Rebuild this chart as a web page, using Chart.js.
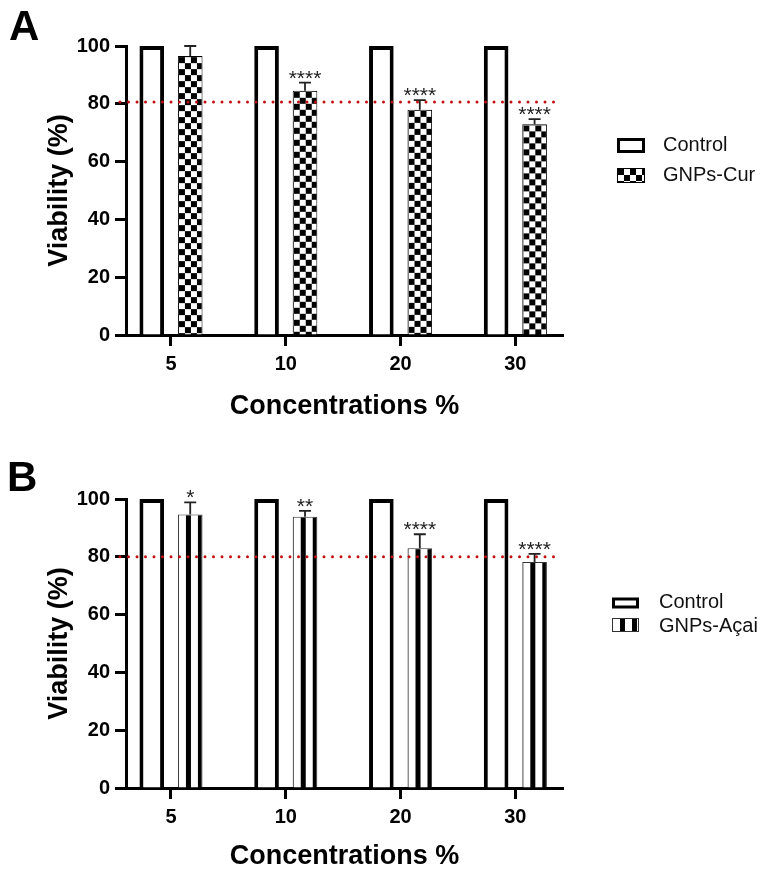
<!DOCTYPE html>
<html>
<head>
<meta charset="utf-8">
<script src="https://cdn.jsdelivr.net/npm/chart.js@4.4.1/dist/chart.umd.min.js"></script>
<style>
  html, body { margin: 0; padding: 0; background: #fff; }
  canvas { display: block; }
</style>
</head>
<body>
<canvas id="panelA" width="778" height="440"></canvas>
<canvas id="panelB" width="778" height="438"></canvas>
<script>
// values
const doses = ['5', '10', '20', '30']
const controlA = [100, 100, 100, 100]
const curA = [96.5, 84.5, 77.9, 72.9]
const curErrA = [3.5, 2.8, 3.4, 1.8]
const curSigA = ['', '****', '****', '****']
const cutoffA = 80.6

const controlB = [100, 100, 100, 100]
const acaiB = [94.6, 93.9, 83.0, 78.2]
const acaiErrB = [4.2, 2.0, 4.8, 2.8]
const acaiSigB = ['*', '**', '****', '****']
const cutoffB = 80

const FONT = "Arial, 'Liberation Sans', Helvetica, sans-serif"
Chart.defaults.font.family = FONT
Chart.defaults.color = '#000'

function checkerTile(cell) {
  const c = document.createElement('canvas')
  c.width = c.height = cell * 2
  const g = c.getContext('2d')
  g.fillStyle = '#fff'
  g.fillRect(0, 0, c.width, c.height)
  g.fillStyle = '#000'
  g.fillRect(0, 0, cell, cell)
  g.fillRect(cell, cell, cell, cell)
  return g.createPattern(c, 'repeat')
}

function stripeTile(white, black) {
  const c = document.createElement('canvas')
  c.width = white + black
  c.height = 4
  const g = c.getContext('2d')
  g.fillStyle = '#fff'
  g.fillRect(0, 0, white, 4)
  g.fillStyle = '#000'
  g.fillRect(white, 0, black, 4)
  return g.createPattern(c, 'repeat')
}

const toPoints = arr => arr.map((v, i) => ({ x: i, y: v }))

// patterned bars: reset the pattern origin to each bar before drawing it
const tiledBars = {
  id: 'tiledBars',
  beforeDatasetDraw(chart, args) {
    const ds = chart.data.datasets[args.index]
    if (!ds.tile) return
    args.meta.data.forEach(bar => {
      const left = bar.x - bar.width / 2
      ds.tile.setTransform(new DOMMatrix().translate(left + 1, bar.y + 1))
      bar.draw(chart.ctx)
    })
    return false
  }
}

const extras = {
  id: 'extras',
  afterDatasetsDraw(chart, args, opts) {
    const { ctx, chartArea, scales: { y } } = chart
    ctx.save()
    chart.data.datasets.forEach((ds, di) => {
      if (!ds.errors) return
      const meta = chart.getDatasetMeta(di)
      meta.data.forEach((bar, i) => {
        const top = y.getPixelForValue(ds.data[i].y + ds.errors[i])
        ctx.strokeStyle = '#222'
        ctx.lineWidth = 1.8
        ctx.beginPath()
        ctx.moveTo(bar.x, bar.y)
        ctx.lineTo(bar.x, top)
        ctx.moveTo(bar.x - 6, top)
        ctx.lineTo(bar.x + 6, top)
        ctx.stroke()
        if (ds.stars[i]) {
          ctx.fillStyle = '#222'
          ctx.font = '21px ' + FONT
          ctx.textAlign = 'center'
          ctx.textBaseline = 'alphabetic'
          ctx.fillText(ds.stars[i], bar.x, top + 2)
        }
      })
    })
    // dotted cut-off line
    const yc = y.getPixelForValue(opts.cutoff)
    ctx.strokeStyle = '#c40f0f'
    ctx.lineWidth = 3
    ctx.lineCap = 'round'
    ctx.setLineDash([0, 8.5])
    ctx.beginPath()
    ctx.moveTo(chartArea.left - 6, yc)
    ctx.lineTo(chartArea.right - 7, yc)
    ctx.stroke()
    ctx.restore()
  },
  afterDraw(chart, args, opts) {
    const ctx = chart.ctx
    ctx.save()
    // panel letter
    ctx.fillStyle = '#000'
    ctx.font = 'bold 42px ' + FONT
    ctx.textAlign = 'left'
    ctx.textBaseline = 'alphabetic'
    ctx.fillText(opts.letter, opts.letterX, opts.letterY)
    // legend
    chart.data.datasets.forEach((ds, i) => {
      const row = opts.rows[i]
      const top = row.y - row.h / 2
      const b = ds.swatchBorder
      ctx.fillStyle = ds.borderColor
      ctx.fillRect(opts.boxX, top, opts.boxW, row.h)
      if (ds.tile) ds.tile.setTransform(new DOMMatrix().translate(opts.boxX + b, top + b))
      ctx.fillStyle = ds.backgroundColor
      ctx.fillRect(opts.boxX + b, top + b, opts.boxW - 2 * b, row.h - 2 * b)
      ctx.fillStyle = '#111'
      ctx.font = '20px ' + FONT
      ctx.textBaseline = 'middle'
      ctx.fillText(ds.label, opts.textX, row.textY)
    })
    ctx.restore()
  }
}

function makePanel(id, p) {
  const border = { display: true, width: 3, color: '#000' }
  return new Chart(document.getElementById(id), {
    type: 'bar',
    data: {
      datasets: [{
        label: 'Control',
        data: toPoints(p.control),
        backgroundColor: '#fff',
        borderColor: '#000',
        borderWidth: 4,
        swatchBorder: 3
      }, {
        label: p.label,
        data: toPoints(p.values),
        errors: p.errors,
        stars: p.stars,
        tile: p.tile,
        backgroundColor: p.tile,
        borderColor: p.edge,
        borderWidth: 1,
        swatchBorder: 1
      }]
    },
    options: {
      responsive: false,
      animation: false,
      events: [],
      categoryPercentage: 0.67,
      barPercentage: 0.64,
      layout: { padding: { top: p.top, right: 215, left: 0, bottom: 0 } },
      plugins: {
        legend: { display: false },
        tooltip: { enabled: false },
        extras: p.extras
      },
      scales: {
        x: {
          type: 'linear',
          offset: false,
          min: -0.392,
          max: 3.415,
          ticks: {
            stepSize: 1,
            includeBounds: false,
            padding: 6,
            color: '#000',
            font: { size: 20, weight: 'bold' },
            callback: v => doses[v]
          },
          grid: { offset: false, drawOnChartArea: false, drawTicks: true, tickLength: 11, tickWidth: 3, tickColor: '#000' },
          border: border,
          title: {
            display: true,
            text: 'Concentrations %',
            color: '#000',
            font: { size: 27, weight: 'bold' },
            padding: { top: 0, bottom: p.xTitlePad }
          },
          afterFit(s) { s.height = p.xHeight }
        },
        y: {
          min: 0,
          max: 100,
          ticks: { stepSize: 20, padding: 5, color: '#000', font: { size: 20, weight: 'bold' } },
          grid: { drawOnChartArea: false, drawTicks: true, tickLength: 11, tickWidth: 3, tickColor: '#000' },
          border: border,
          title: {
            display: true,
            text: 'Viability (%)',
            color: '#000',
            font: { size: 27, weight: 'bold' },
            padding: { top: 43, bottom: 0 }
          },
          afterFit(s) { s.width = 126 }
        }
      }
    },
    plugins: [tiledBars, extras]
  })
}

makePanel('panelA', {
  control: controlA,
  values: curA,
  errors: curErrA,
  stars: curSigA,
  label: 'GNPs-Cur',
  tile: checkerTile(6),
  edge: '#000',
  top: 46,
  xHeight: 105,
  xTitlePad: 17,
  extras: {
    cutoff: cutoffA,
    letter: 'A', letterX: 9, letterY: 40,
    boxX: 617, boxW: 28, textX: 663,
    rows: [{ y: 145.5, h: 15, textY: 145 }, { y: 175.5, h: 15, textY: 175 }]
  }
})

makePanel('panelB', {
  control: controlB,
  values: acaiB,
  errors: acaiErrB,
  stars: acaiSigB,
  label: 'GNPs-Açai',
  tile: stripeTile(7, 5),
  edge: '#333',
  top: 59,
  xHeight: 90,
  xTitlePad: 5,
  extras: {
    cutoff: cutoffB,
    letter: 'B', letterX: 7, letterY: 51,
    boxX: 612, boxW: 27, textX: 659,
    rows: [{ y: 163, h: 11, textY: 162 }, { y: 185, h: 14, textY: 186 }]
  }
})
</script>
</body>
</html>
